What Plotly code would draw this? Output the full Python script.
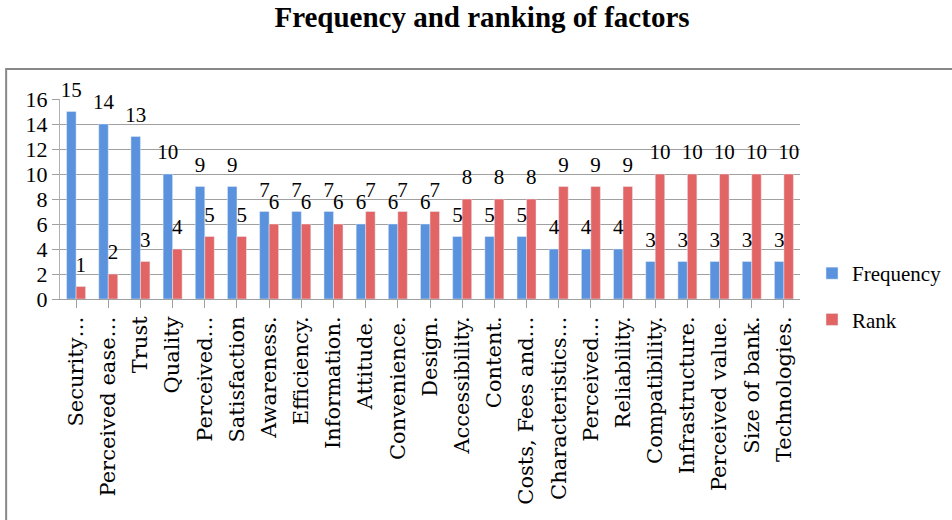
import plotly.graph_objects as go

categories = ["Security…", "Perceived ease…", "Trust", "Quality", "Perceived…",
              "Satisfaction", "Awareness.", "Efficiency.", "Information.", "Attitude.",
              "Convenience.", "Design.", "Accessibility.", "Content.", "Costs, Fees and…",
              "Characteristics…", "Perceived…", "Reliability.", "Compatibility.",
              "Infrastructure.", "Perceived value.", "Size of bank.", "Technologies."]
frequency = [15, 14, 13, 10, 9, 9, 7, 7, 7, 6, 6, 6, 5, 5, 5, 4, 4, 4, 3, 3, 3, 3, 3]
rank = [1, 2, 3, 4, 5, 5, 6, 6, 6, 7, 7, 7, 8, 8, 8, 9, 9, 9, 10, 10, 10, 10, 10]
y_ticks = [0, 2, 4, 6, 8, 10, 12, 14, 16]

# unique x keys (two categories share the label "Perceived…")
xkeys = list(range(len(categories)))

SERIF = "Liberation Serif"
BLUE = "#5a92de"
RED = "#e26464"

fig = go.Figure()
fig.add_trace(go.Bar(x=xkeys, y=frequency, name="Frequency", marker_color=BLUE,
                     offsetgroup="f", legendgroup="f", hoverinfo="y"))
fig.add_trace(go.Bar(x=xkeys, y=rank, name="Rank", marker_color=RED,
                     offsetgroup="r", legendgroup="r", hoverinfo="y"))
# data labels
for vals, grp in [(frequency, "f"), (rank, "r")]:
    fig.add_trace(go.Scatter(x=xkeys, y=vals, mode="markers+text", text=[str(v) for v in vals],
                             textposition="top center", offsetgroup=grp,
                             marker=dict(size=14, opacity=0), showlegend=False,
                             cliponaxis=False, hoverinfo="skip",
                             textfont=dict(family=SERIF, size=21, color="black")))

fig.update_layout(
    width=952, height=520,
    margin=dict(l=60, r=150, t=99, b=221),
    paper_bgcolor="white", plot_bgcolor="white",
    barmode="group", bargap=0.41, bargroupgap=0,
    scattermode="group", scattergap=0.41,
    title=dict(text="<b>Frequency and ranking of factors</b>", x=482/952, xanchor="center",
               y=1-17/520, yanchor="middle",
               font=dict(family=SERIF, size=29, color="black")),
    legend=dict(xref="container", yref="container", x=812/952, xanchor="left",
                y=1-253/520, yanchor="top",
                font=dict(family=SERIF, size=21, color="black"),
                traceorder="grouped", tracegroupgap=16, itemwidth=30),
    xaxis=dict(tickmode="array", tickvals=xkeys, ticktext=categories, tickangle=-90,
               ticks="outside", tickson="boundaries", ticklen=8, tickcolor="#a0a0a0",
               showline=True, linecolor="#a0a0a0", linewidth=1, showgrid=False,
               range=[-0.5, len(categories) - 0.5],
               tickfont=dict(family="DejaVu Serif", size=21, color="black")),
    yaxis=dict(range=[0, 16], tickvals=y_ticks, ticks="outside", ticklen=7,
               tickcolor="#a0a0a0", showline=True, linecolor="#b0b0b0",
               showgrid=True, gridcolor="#a0a0a0", gridwidth=1, zeroline=False,
               tickfont=dict(family=SERIF, size=22, color="black")),
    shapes=[dict(type="rect", xref="paper", yref="paper",
                 x0=(6 - 60) / 742, x1=(962 - 60) / 742,
                 y0=(299 - 535) / 200, y1=(299 - 69) / 200,
                 line=dict(color="#888888", width=2), fillcolor="rgba(0,0,0,0)", layer="below")],
)

fig.write_html("out.html", config={"displayModeBar": False},
               post_script="document.body.style.margin='0';")
